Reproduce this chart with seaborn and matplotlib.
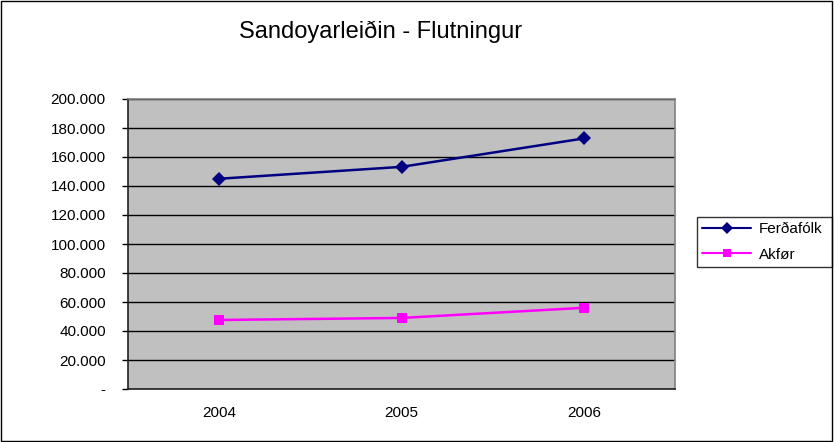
"""Sandoyarleiðin - Flutningur: passengers and vehicles per year."""

import matplotlib
matplotlib.use("Agg")
import matplotlib.pyplot as plt
from matplotlib.patches import Rectangle
from matplotlib.ticker import FuncFormatter, FixedLocator
import pandas as pd
import seaborn as sns

years = ["2004", "2005", "2006"]
ferdafolk = [145000, 153200, 172800]
akfor = [47600, 49000, 56000]
series_names = ["Ferðafólk", "Akfør"]

df = pd.DataFrame({
    "year": years * 2,
    "value": ferdafolk + akfor,
    "series": [series_names[0]] * 3 + [series_names[1]] * 3,
})

sns.set_style("white")
plt.rcParams["font.family"] = ["Liberation Sans", "DejaVu Sans"]
plt.rcParams["text.color"] = "black"
plt.rcParams["xtick.labelcolor"] = "black"
plt.rcParams["ytick.labelcolor"] = "black"

fig = plt.figure(figsize=(8.34, 4.42), dpi=100)
ax = fig.add_axes([128 / 834, 1 - 389 / 442, (675 - 128) / 834, (389 - 99) / 442])
ax.set_facecolor("#C0C0C0")

palette = {"Ferðafólk": "#000080", "Akfør": "#FF00FF"}
markers = {"Ferðafólk": "D", "Akfør": "s"}
sns.lineplot(data=df, x="year", y="value", hue="series", style="series",
             palette=palette, markers=markers, dashes=False, linewidth=1.8,
             markersize=7, markeredgewidth=0, ax=ax, sort=False)

ax.set_xlim(-0.5, 2.5)
ax.set_ylim(0, 200000)
ax.yaxis.set_major_locator(FixedLocator(range(0, 200001, 20000)))
ax.yaxis.set_major_formatter(FuncFormatter(
    lambda v, _: "-" if v == 0 else f"{int(v):,}".replace(",", ".")))
ax.grid(True, axis="y", color="black", linewidth=1)
ax.set_axisbelow(True)

# Excel-style category ticks: labels centred, tick marks between categories
ax.set_xticks([0, 1, 2])
ax.set_xticklabels(years)
ax.set_xticks([-0.5, 0.5, 1.5, 2.5], minor=True)
ax.tick_params(axis="x", which="major", length=0, labelsize=11, pad=12,
               labelcolor="black")
ax.tick_params(axis="x", which="minor", length=4, width=1, color="black",
               direction="out")
ax.tick_params(axis="y", length=4, width=1, color="black", direction="out",
               labelsize=11, pad=12, left=True, labelcolor="black")
ax.set_xlabel("")
ax.set_ylabel("")

for side in ["top", "right"]:
    ax.spines[side].set_color("#808080")
    ax.spines[side].set_linewidth(1.2)
for side in ["left", "bottom"]:
    ax.spines[side].set_color("#202020")
    ax.spines[side].set_linewidth(1.2)

leg = ax.legend(loc="upper left",
                bbox_to_anchor=(697 / 834, 1 - 217 / 442 - 0.05, 135 / 834, 0.05),
                bbox_transform=fig.transFigure, mode="expand",
                frameon=True, fancybox=False, edgecolor="black", fontsize=11,
                handlelength=3.2, borderpad=0.35, labelspacing=0.75,
                handletextpad=0.5, borderaxespad=0, labelcolor="black")
leg.get_frame().set_linewidth(1)
for h in leg.legend_handles:
    h.set_linewidth(1.5)
    h.set_markersize(6)

fig.text(381 / 834, 1 - 32 / 442, "Sandoyarleiðin - Flutningur",
         ha="center", va="center", fontsize=17, color="black")

fig.patches.append(Rectangle((0.001, 0.002), 0.997, 0.995, transform=fig.transFigure,
                             fill=False, edgecolor="black", linewidth=1))

fig.savefig("out.png", dpi=100, facecolor="white")
